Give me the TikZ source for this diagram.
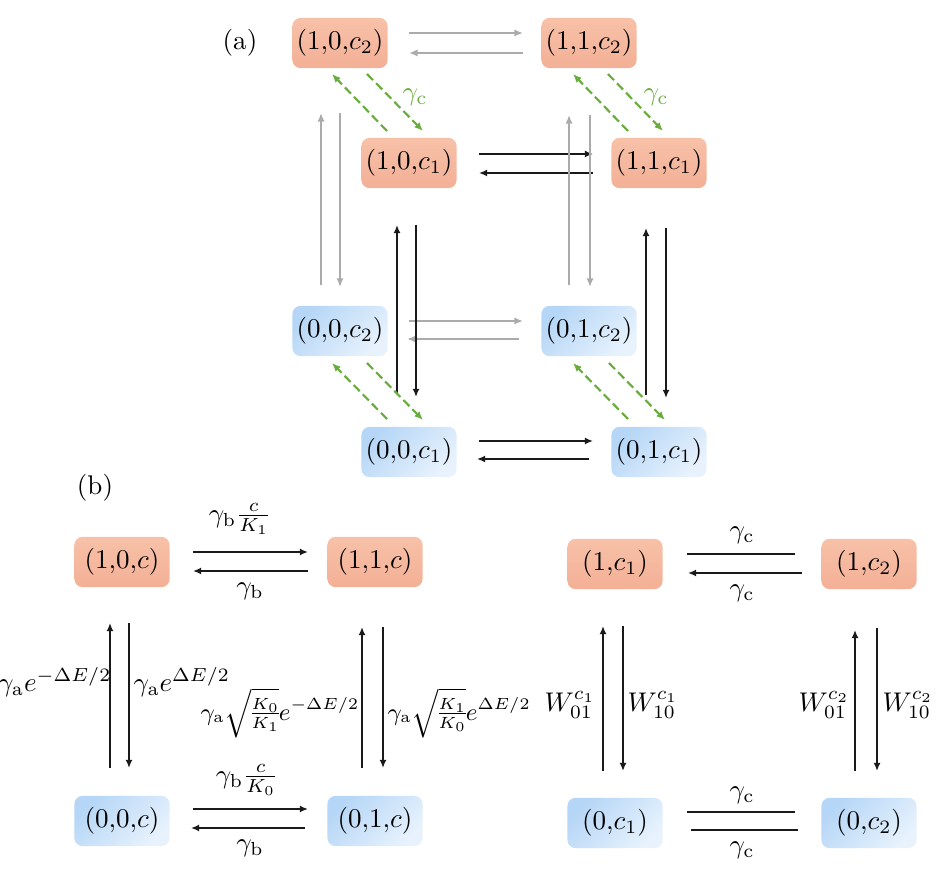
\documentclass[tikz,border=0pt]{standalone}
\usetikzlibrary{arrows.meta,calc}
\definecolor{orT}{HTML}{F7C1A8}
\definecolor{orB}{HTML}{F3B096}
\definecolor{blA}{HTML}{B5D6F6}
\definecolor{blB}{HTML}{E8F2FD}
\definecolor{grn}{HTML}{6AAD3F}
\definecolor{gry}{HTML}{ABABAB}
\definecolor{blk}{HTML}{1A1A1A}
\tikzset{
 st/.style={rounded corners=3pt, minimum width=35.2pt, minimum height=18.6pt, inner sep=0pt},
 upst/.style={st, top color=orT, bottom color=orB},
 dnst/.style={st, top color=blA, bottom color=blB, shading angle=45},
 blkarr/.style={line width=1.1pt, draw=blk, -{Latex[length=3pt,width=2.6pt]}},
 blkline/.style={line width=1.1pt, draw=blk},
 gryarr/.style={line width=0.75pt, draw=gry, -{Latex[length=3.2pt,width=2.7pt]}},
 grnarr/.style={line width=0.8pt, draw=grn, dash pattern=on 3.2pt off 1.6pt, -{Latex[length=3.2pt,width=2.7pt]}},
 lbl/.style={inner sep=0pt},
 sqlbl/.style={inner sep=0pt, font=\fontsize{9pt}{11pt}\selectfont},
}
\begin{document}
\begin{tikzpicture}[x=0.37pt,y=-0.37pt]
\useasboundingbox (0,0) rectangle (945,892);
% ---------- (a) ----------
\node[lbl] (la) at (240,43) {(a)};
\node[upst] (A2) at (340,43) {$(1{,}0{,}c_2)$};
\node[upst] (B2) at (589,43) {$(1{,}1{,}c_2)$};
\node[upst] (A1) at (409,163) {$(1{,}0{,}c_1)$};
\node[upst] (B1) at (659,163) {$(1{,}1{,}c_1)$};
\node[dnst] (C2) at (340,331) {$(0{,}0{,}c_2)$};
\node[dnst] (D2) at (589,331) {$(0{,}1{,}c_2)$};
\node[dnst] (C1) at (409,452) {$(0{,}0{,}c_1)$};
\node[dnst] (D1) at (659,452) {$(0{,}1{,}c_1)$};
% horizontals
\draw[gryarr] ($(A2.center)+(69,-10)$) -- ($(B2.center)+(-66,-10)$);
\draw[gryarr] ($(B2.center)+(-66,10)$) -- ($(A2.center)+(69,10)$);
\draw[blkarr] ($(A1.center)+(70,-9)$) -- ($(B1.center)+(-66,-9)$);
\draw[blkarr] ($(B1.center)+(-66,10)$) -- ($(A1.center)+(70,10)$);
\draw[gryarr] ($(C2.center)+(69,-10)$) -- ($(D2.center)+(-66,-10)$);
\draw[gryarr] ($(D2.center)+(-70,8)$) -- ($(C2.center)+(67,8)$);
\draw[blkarr] ($(C1.center)+(70,-11)$) -- ($(D1.center)+(-66,-11)$);
\draw[blkarr] ($(D1.center)+(-70,7)$) -- ($(C1.center)+(68,7)$);
% verticals
\draw[gryarr] ($(C2.center)+(-19,-46)$) -- ($(A2.center)+(-19,70)$);
\draw[gryarr] ($(A2.center)+(0,70)$) -- ($(C2.center)+(0,-44)$);
\draw[gryarr] ($(D2.center)+(-20,-46)$) -- ($(B2.center)+(-20,72)$);
\draw[gryarr] ($(B2.center)+(1,72)$) -- ($(D2.center)+(1,-44)$);
\draw[blkarr] ($(C1.center)+(-12,-59)$) -- ($(A1.center)+(-12,62)$);
\draw[blkarr] ($(A1.center)+(7,62)$) -- ($(C1.center)+(7,-55)$);
\draw[blkarr] ($(D1.center)+(-13,-57)$) -- ($(B1.center)+(-13,65)$);
\draw[blkarr] ($(B1.center)+(7,65)$) -- ($(D1.center)+(7,-54)$);
% green dashed
\draw[grnarr] ($(A1.center)+(-22,-32)$) -- ($(A2.center)+(-8,31)$);
\draw[grnarr] ($(A2.center)+(27,31)$) -- ($(A1.center)+(14,-32)$);
\node[lbl,text=grn] (ga) at ($(A2.center)+(75,54)$) {$\gamma_\mathrm{c}$};
\draw[grnarr] ($(B1.center)+(-31,-32)$) -- ($(B2.center)+(-16,31)$);
\draw[grnarr] ($(B2.center)+(19,31)$) -- ($(B1.center)+(4,-32)$);
\node[lbl,text=grn] (gb) at ($(B2.center)+(67,54)$) {$\gamma_\mathrm{c}$};
\draw[grnarr] ($(C1.center)+(-22,-33)$) -- ($(C2.center)+(-8,32)$);
\draw[grnarr] ($(C2.center)+(27,32)$) -- ($(C1.center)+(14,-32)$);
\draw[grnarr] ($(D1.center)+(-31,-33)$) -- ($(D2.center)+(-16,32)$);
\draw[grnarr] ($(D2.center)+(20,32)$) -- ($(D1.center)+(6,-32)$);
% ---------- (b) ----------
\node[lbl] (lb) at (95,488) {(b)};
\node[upst] (P10) at (122,562) {$(1{,}0{,}c)$};
\node[upst] (P11) at (375,562) {$(1{,}1{,}c)$};
\node[dnst] (P00) at (122,821) {$(0{,}0{,}c)$};
\node[dnst] (P01) at (375,821) {$(0{,}1{,}c)$};
\draw[blkarr] ($(P10.center)+(71,-10)$) -- ($(P11.center)+(-67,-10)$);
\draw[blkarr] ($(P11.center)+(-67,9)$) -- ($(P10.center)+(71,9)$);
\draw[blkarr] ($(P00.center)+(71,-12)$) -- ($(P01.center)+(-67,-12)$);
\draw[blkarr] ($(P01.center)+(-70,7)$) -- ($(P00.center)+(69,7)$);
\draw[blkarr] ($(P00.center)+(-12,-53)$) -- ($(P10.center)+(-12,61)$);
\draw[blkarr] ($(P10.center)+(7,61)$) -- ($(P00.center)+(7,-53)$);
\draw[blkarr] ($(P01.center)+(-13,-53)$) -- ($(P11.center)+(-13,65)$);
\draw[blkarr] ($(P11.center)+(8,65)$) -- ($(P01.center)+(8,-53)$);
\node[lbl] (t1) at (240,519) {$\gamma_\mathrm{b}\frac{c}{K_1}$};
\node[lbl] (t2) at (250,591) {$\gamma_\mathrm{b}$};
\node[lbl] (t3) at (247,780) {$\gamma_\mathrm{b}\frac{c}{K_0}$};
\node[lbl] (t4) at (250,848) {$\gamma_\mathrm{b}$};
\node[lbl,anchor=east] (t5) at (112,682) {$\gamma_\mathrm{a}e^{-\Delta E/2}$};
\node[lbl,anchor=west] (t6) at (133,682) {$\gamma_\mathrm{a}e^{\Delta E/2}$};
\node[sqlbl,anchor=east] (t7) at (360,713) {$\nulldelimiterspace=0pt\gamma_\mathrm{a}\sqrt{\frac{K_0}{K_1}}e^{-\Delta E/2}$};
\node[sqlbl,anchor=west] (t8) at (387,713) {$\nulldelimiterspace=0pt\gamma_\mathrm{a}\sqrt{\frac{K_1}{K_0}}e^{\Delta E/2}$};
% right panel
\node[upst] (Q1) at (615,564) {$(1{,}c_1)$};
\node[upst] (Q2) at (869,564) {$(1{,}c_2)$};
\node[dnst] (R1) at (615,823) {$(0{,}c_1)$};
\node[dnst] (R2) at (869,823) {$(0{,}c_2)$};
\draw[blkline] ($(Q1.center)+(72,-10)$) -- ($(Q2.center)+(-74,-10)$);
\draw[blkarr] ($(Q2.center)+(-67,9)$) -- ($(Q1.center)+(73,9)$);
\draw[blkline] ($(R1.center)+(72,-11)$) -- ($(R2.center)+(-74,-11)$);
\draw[blkline] ($(R1.center)+(76,7)$) -- ($(R2.center)+(-71,7)$);
\draw[blkarr] ($(R1.center)+(-12,-52)$) -- ($(Q1.center)+(-12,62)$);
\draw[blkarr] ($(Q1.center)+(8,62)$) -- ($(R1.center)+(8,-52)$);
\draw[blkarr] ($(R2.center)+(-14,-52)$) -- ($(Q2.center)+(-14,66)$);
\draw[blkarr] ($(Q2.center)+(8,64)$) -- ($(R2.center)+(8,-52)$);
\node[lbl] (s1) at (742,535) {$\gamma_\mathrm{c}$};
\node[lbl] (s2) at (742,593) {$\gamma_\mathrm{c}$};
\node[lbl] (s3) at (742,795) {$\gamma_\mathrm{c}$};
\node[lbl] (s4) at (742,850) {$\gamma_\mathrm{c}$};
\node[lbl,anchor=east] (w1) at (596,705) {$W_{01}^{c_1}$};
\node[lbl,anchor=west] (w2) at (627,705) {$W_{10}^{c_1}$};
\node[lbl,anchor=east] (w3) at (850,705) {$W_{01}^{c_2}$};
\node[lbl,anchor=west] (w4) at (882,705) {$W_{10}^{c_2}$};
\end{tikzpicture}
\end{document}
